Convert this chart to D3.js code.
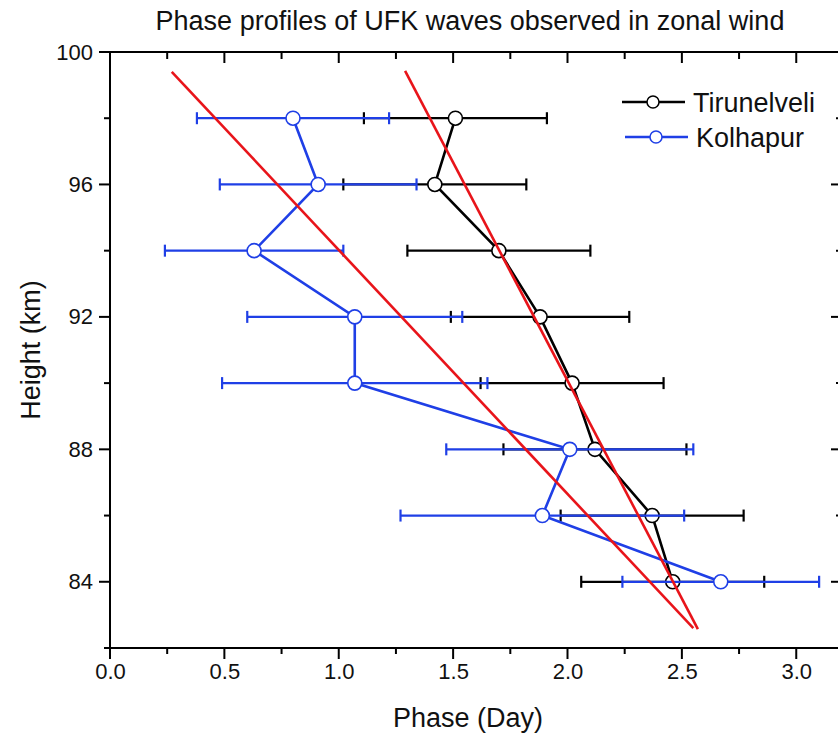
<!DOCTYPE html>
<html>
<head>
<meta charset="utf-8">
<script src="https://cdn.jsdelivr.net/npm/d3@7"></script>
<style>
  body { margin: 0; background: #fff; }
  svg text { font-family: Arial, "Liberation Sans", sans-serif; fill: #111; }
</style>
</head>
<body>
<div id="chart"></div>
<script>
// heights (km) shared by both stations
var heights = [98, 96, 94, 92, 90, 88, 86, 84]

// Tirunelveli phase (day) and error half-width
var tirPhase = [1.51, 1.42, 1.70, 1.88, 2.02, 2.12, 2.37, 2.46]
var tirErr   = [0.40, 0.40, 0.40, 0.39, 0.40, 0.40, 0.40, 0.40]

// Kolhapur phase (day) and error half-width
var kolPhase = [0.80, 0.91, 0.63, 1.07, 1.07, 2.01, 1.89, 2.67]
var kolErr   = [0.42, 0.43, 0.39, 0.47, 0.58, 0.54, 0.62, 0.43]

// linear fit end points [phase, height]
var tirFit = [[1.29, 99.43], [2.57, 82.57]]
var kolFit = [[0.27, 99.40], [2.55, 82.60]]

var xTicks = [0, 0.5, 1.0, 1.5, 2.0, 2.5, 3.0]
var yTicks = [84, 88, 92, 96, 100]

var W = 838, H = 735
var margin = {left: 110, top: 52, right: -4, bottom: 87}
var width = W - margin.left - margin.right
var height = H - margin.top - margin.bottom

var blue = '#1f3fe6', red = '#e8141a'

var svg = d3.select('#chart').append('svg').attr('width', W).attr('height', H)
var g = svg.append('g').attr('transform', 'translate(' + margin.left + ',' + margin.top + ')')

var x = d3.scaleLinear().domain([0, 3.2]).range([0, width])
var y = d3.scaleLinear().domain([82, 100]).range([height, 0])

function series(phase, err){
  return heights.map(function(h, i){ return {h: h, p: phase[i], e: err[i]} })
}
var tir = series(tirPhase, tirErr)
var kol = series(kolPhase, kolErr)

// axes: minor ticks every 0.25 / 2 km
var xMinor = d3.range(0, 3.21, 0.25)
var yMinor = d3.range(82, 100.1, 2)

function axisLines(){
  var ax = g.append('g').attr('class', 'axes')
  ax.append('rect').attr('width', width).attr('height', height)
    .attr('fill', 'none').attr('stroke', '#000').attr('stroke-width', 2)
  xMinor.forEach(function(v){
    var major = Math.abs(v * 2 - Math.round(v * 2)) < 1e-6
    ax.append('line').attr('x1', x(v)).attr('x2', x(v))
      .attr('y1', height).attr('y2', height + (major ? 11 : 6))
      .attr('stroke', '#000').attr('stroke-width', 2)
    ax.append('line').attr('x1', x(v)).attr('x2', x(v))
      .attr('y1', 0).attr('y2', major ? 11 : 7)
      .attr('stroke', '#000').attr('stroke-width', 2)
  })
  yMinor.forEach(function(v){
    var major = v % 4 == 0
    ax.append('line').attr('x1', 0).attr('x2', major ? -11 : -6)
      .attr('y1', y(v)).attr('y2', y(v))
      .attr('stroke', '#000').attr('stroke-width', 2)
    ax.append('line').attr('x1', width).attr('x2', width - (major ? 11 : 6))
      .attr('y1', y(v)).attr('y2', y(v))
      .attr('stroke', '#000').attr('stroke-width', 2)
  })
  var xAxis = d3.axisBottom(x).tickValues(xTicks).tickFormat(d3.format('.1f')).tickSize(0).tickPadding(15)
  var gx = g.append('g').attr('transform', 'translate(0,' + height + ')').call(xAxis)
  gx.select('.domain').remove()
  gx.selectAll('text').style('font-size', '22px')
  var yAxis = d3.axisLeft(y).tickValues(yTicks).tickSize(0).tickPadding(17)
  var gy = g.append('g').call(yAxis)
  gy.select('.domain').remove()
  gy.selectAll('text').style('font-size', '22px')
}
axisLines()

var line = d3.line().x(function(d){ return x(d.p) }).y(function(d){ return y(d.h) })

function errorBars(data, color){
  var eb = g.append('g').attr('stroke', color).attr('stroke-width', 2.2)
  data.forEach(function(d){
    eb.append('line').attr('x1', x(d.p - d.e)).attr('x2', x(d.p + d.e))
      .attr('y1', y(d.h)).attr('y2', y(d.h))
    ;[d.p - d.e, d.p + d.e].forEach(function(v){
      eb.append('line').attr('x1', x(v)).attr('x2', x(v))
        .attr('y1', y(d.h) - 6).attr('y2', y(d.h) + 6)
    })
  })
}

function profile(data, color){
  g.append('path').attr('d', line(data)).attr('fill', 'none')
    .attr('stroke', color).attr('stroke-width', 2.6)
  g.selectAll(null).data(data).enter().append('circle')
    .attr('cx', function(d){ return x(d.p) }).attr('cy', function(d){ return y(d.h) })
    .attr('r', 7).attr('fill', '#fff').attr('stroke', color).attr('stroke-width', 1.6)
}

errorBars(tir, '#000')
profile(tir, '#000')
errorBars(kol, blue)
profile(kol, blue)

// fits
;[tirFit, kolFit].forEach(function(f){
  g.append('line').attr('x1', x(f[0][0])).attr('y1', y(f[0][1]))
    .attr('x2', x(f[1][0])).attr('y2', y(f[1][1]))
    .attr('stroke', red).attr('stroke-width', 2.6)
})

// legend
var legend = svg.append('g')
;[['Tirunelveli', '#000', 102, 622], ['Kolhapur', blue, 137, 625]].forEach(function(l){
  legend.append('line').attr('x1', l[3]).attr('x2', l[3] + 63).attr('y1', l[2]).attr('y2', l[2])
    .attr('stroke', l[1]).attr('stroke-width', 2.6)
  legend.append('circle').attr('cx', l[3] + 31).attr('cy', l[2]).attr('r', 6)
    .attr('fill', '#fff').attr('stroke', l[1]).attr('stroke-width', 1.5)
  legend.append('text').attr('x', l[3] + 71).attr('y', l[2] + 10).style('font-size', '27px').text(l[0])
})

svg.append('text').attr('x', 470).attr('y', 30).attr('text-anchor', 'middle')
  .style('font-size', '27px').text('Phase profiles of UFK waves observed in zonal wind')
svg.append('text').attr('x', 468).attr('y', 727).attr('text-anchor', 'middle')
  .style('font-size', '27px').text('Phase (Day)')
svg.append('text').attr('transform', 'translate(40,' + 350 + ') rotate(-90)').attr('text-anchor', 'middle')
  .style('font-size', '27px').text('Height (km)')
</script>
</body>
</html>
